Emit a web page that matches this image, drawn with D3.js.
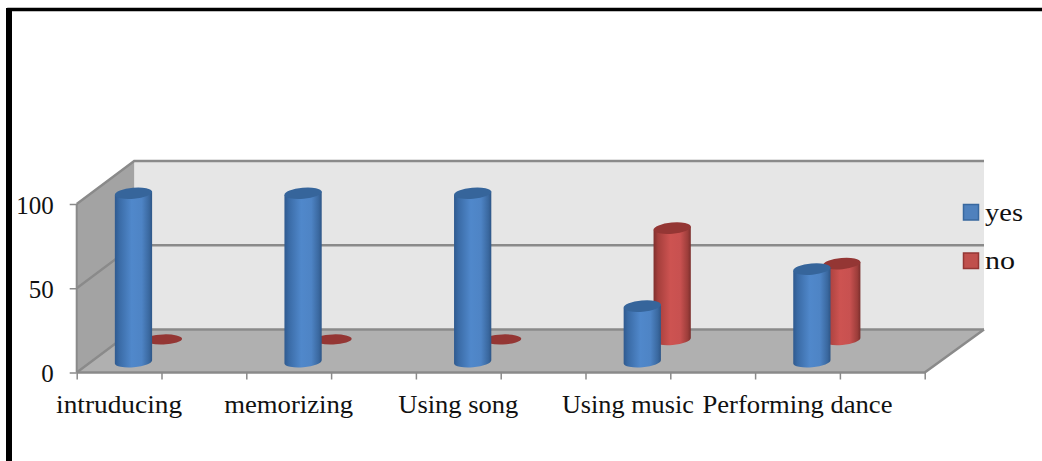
<!DOCTYPE html>
<html><head><meta charset="utf-8">
<script src="https://cdn.jsdelivr.net/npm/d3@7/dist/d3.min.js"></script>
<style>html,body{margin:0;padding:0;background:#fff;overflow:hidden}svg{display:block}
text{font-family:"Liberation Serif",serif;fill:#111}</style></head>
<body><svg id="c" width="1042" height="461"></svg>
<script>
const categories = ["intruducing","memorizing","Using song","Using music","Performing dance"];
const yes = [100,100,100,33,55];
const no = [0,0,0,66,45];
const yTicks = [0,50,100];
const legendLabels = ["yes","no"];

const svg = d3.select("#c");
const x0=76.7,x1=924.7,yBase=372.5,yTop=204,dx=57.5,dy=-43;
const xBackEnd=984;
const x = d3.scaleBand().domain(categories).range([x0,x1]);
const tickPos = d3.scaleLinear().domain([0,10]).range([x0,x1]);
const y = d3.scaleLinear().domain([0,100]).range([yBase,yTop]);
const defs = svg.append("defs");
function grad(id,stops){
  const g=defs.append("linearGradient").attr("id",id).attr("x1",0).attr("x2",1).attr("y1",0).attr("y2",0);
  stops.forEach(([o,c])=>g.append("stop").attr("offset",o).attr("stop-color",c));
}
grad("gb",[[0,"#2f5a8f"],[.12,"#3a6ba6"],[.45,"#5088cb"],[.72,"#4e84c5"],[.92,"#3a689f"],[1,"#2e5687"]]);
grad("gr",[[0,"#7f2f2d"],[.12,"#a53f3c"],[.45,"#cd5351"],[.72,"#c85150"],[.92,"#9c3d3a"],[1,"#7a2e2c"]]);

// frame
svg.append("path").attr("d","M9,461V9.5H1042").attr("fill","none").attr("stroke","#000").attr("stroke-width",3.5);
svg.append("rect").attr("x",6).attr("y",8).attr("width",6).attr("height",453).attr("fill","#000");

const gridC="#8a8a8a";
// back wall, side wall, floor
const pt=(v,t)=>[x0+dx*t,y(v)+dy*t];
svg.append("rect").attr("x",x0+dx).attr("y",y(100)+dy).attr("width",xBackEnd-x0-dx).attr("height",y(0)-y(100)).attr("fill","#e6e6e6");
svg.append("path").attr("d",d3.line()([pt(0,0),pt(100,0),pt(100,1),pt(0,1)])+"Z").attr("fill","#a3a3a3");
svg.append("path").attr("d",d3.line()([[x0,yBase],[x0+dx,yBase+dy],[xBackEnd,yBase+dy],[x1,yBase]])+"Z").attr("fill","#b0b0b0");
// grid lines
yTicks.forEach(v=>{
  svg.append("path").attr("d",d3.line()([pt(v,0),pt(v,1),[xBackEnd,y(v)+dy]])).attr("fill","none").attr("stroke",gridC).attr("stroke-width",2.4);
});
svg.append("path").attr("d",d3.line()([[x0,yBase],[x1,yBase],[xBackEnd,yBase+dy]])).attr("fill","none").attr("stroke",gridC).attr("stroke-width",2.5);
svg.append("line").attr("x1",x0).attr("x2",x0).attr("y1",y(0)).attr("y2",y(100)).attr("stroke",gridC).attr("stroke-width",2);

// axes
const ax=svg.append("g").attr("transform",`translate(0,${yBase})`)
  .call(d3.axisBottom(tickPos).tickValues(d3.range(0,11)).tickSize(7).tickFormat("").tickSizeOuter(0));
ax.select(".domain").remove();
ax.selectAll("line").attr("stroke",gridC).attr("stroke-width",1.5);
const ay=svg.append("g").attr("transform",`translate(${x0},0)`)
  .call(d3.axisLeft(y).tickValues(yTicks).tickSize(7).tickSizeOuter(0));
ay.select(".domain").remove();
ay.selectAll("line").attr("stroke",gridC).attr("stroke-width",1.5);
ay.selectAll("text").attr("font-size",25).attr("x",-23).attr("dy","0.36em").attr("font-family","Liberation Serif").attr("fill","#111");

// category labels
const catWidths=[126,129,120,132,190];
svg.selectAll("text.cat").data(categories).join("text").attr("class","cat")
  .attr("x",d=>x(d)+x.bandwidth()/4).attr("y",412.5).attr("text-anchor","middle").attr("font-size",26).text(d=>d)
  .attr("textLength",(d,i)=>catWidths[i]).attr("lengthAdjust","spacingAndGlyphs");

// cylinders
const rx=18.7,ry=5.6,tilt=-5;
function cyl(g,cx,yb,yt,series){
  const fill=series==="yes"?"url(#gb)":"url(#gr)";
  const cap=series==="yes"?"#36659b":"#943634";
  const a=tilt*Math.PI/180, ox=rx*Math.cos(a), oy=rx*Math.sin(a);
  if(yb-yt<1){
    g.append("ellipse").attr("cx",cx).attr("cy",yb).attr("rx",rx).attr("ry",ry-0.6)
     .attr("transform",`rotate(-2 ${cx} ${yb})`).attr("fill",cap);
    return;
  }
  const p=`M${cx-ox},${yt-oy}L${cx-ox},${yb-oy}A${rx},${ry} ${tilt} 0 0 ${cx+ox},${yb+oy}L${cx+ox},${yt+oy}Z`;
  g.append("path").attr("d",p).attr("fill",fill);
  g.append("ellipse").attr("cx",cx).attr("cy",yt).attr("rx",rx).attr("ry",ry)
   .attr("transform",`rotate(${tilt} ${cx} ${yt})`).attr("fill",cap);
}
const marks=svg.append("g");
const rows=[["no",no,0.77],["yes",yes,0.25]];
rows.forEach(([name,vals,t])=>{
  categories.forEach((c,i)=>{
    const cx=x(c)+x.bandwidth()/4+dx*t;
    const off=dy*t;
    cyl(marks.append("g"),cx,y(0)+off,y(vals[i])+off,name);
  });
});

// legend
const legendY=[212.5,261];
const fills=["#4f81bd","#c0504d"],strokes=["#38689f","#943634"];
const legendW=[38,30];
legendLabels.forEach((l,i)=>{
  svg.append("rect").attr("x",963.5).attr("y",legendY[i]-8).attr("width",15).attr("height",15.5)
    .attr("fill",fills[i]).attr("stroke",strokes[i]).attr("stroke-width",1.5);
  svg.append("text").attr("x",985).attr("y",legendY[i]+8).attr("font-size",26).text(l)
    .attr("textLength",legendW[i]).attr("lengthAdjust","spacingAndGlyphs");
});
</script></body></html>
